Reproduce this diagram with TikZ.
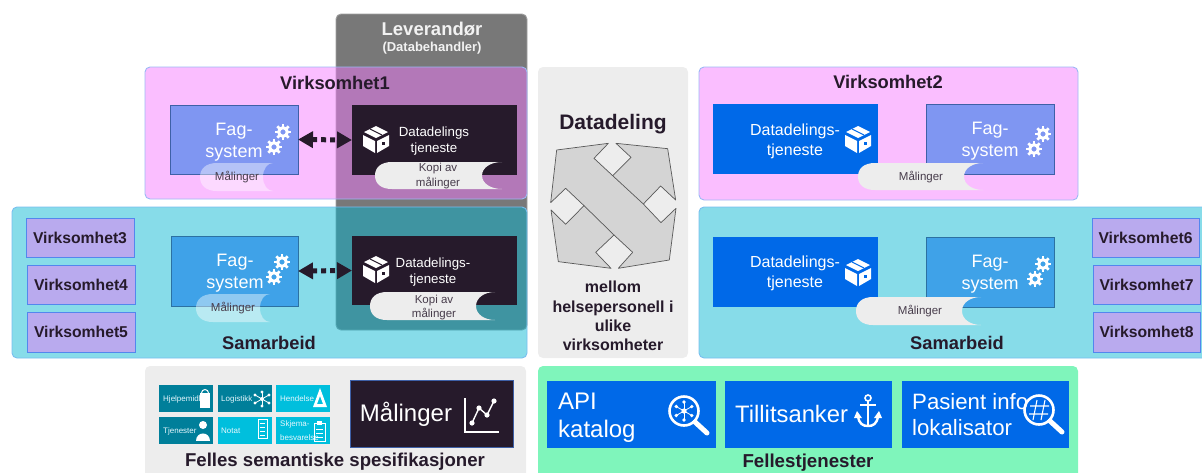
\documentclass[tikz,border=0pt]{standalone}
\usepackage{fontspec}
\setmainfont{Liberation Sans}
\usetikzlibrary{arrows.meta}
\definecolor{ink}{HTML}{261A2B}
\definecolor{gy}{HTML}{787878}
\definecolor{panel}{HTML}{EDEDED}
\definecolor{pinkc}{RGB}{245,120,255}
\definecolor{tealc}{RGB}{0,181,208}
\definecolor{fagA}{HTML}{7F96F2}
\definecolor{fagB}{HTML}{3FA2E8}
\definecolor{blue}{HTML}{0069E8}
\definecolor{lilac}{HTML}{B9AAEE}
\definecolor{mint}{HTML}{7FF5BB}
\definecolor{tileD}{HTML}{007F9A}
\definecolor{tileL}{HTML}{00BFDD}
\newcommand{\fs}[2]{\fontsize{#1}{#2}\selectfont}
\newcommand{\mybox}[6]{\pgfmathsetmacro\bw{#5-#3}\pgfmathsetmacro\bh{#6-#4}%
  \node[#2,minimum width=\bw pt,minimum height=\bh pt,inner sep=0pt,outer sep=0pt,anchor=north west] (#1) at (#3,#4) {};}
% banner: style, left, tip, concave, top, bottom
\newcommand{\banner}[6]{\pgfmathsetmacro\ym{(#5+#6)/2}\pgfmathsetmacro\hh{#6-#5}%
  \pgfmathsetmacro\ra{#2+17}\pgfmathsetmacro\rb{#2+6}\pgfmathsetmacro\ua{\ym-.30*\hh}\pgfmathsetmacro\ub{\ym+.30*\hh}%
  \pgfmathsetmacro\cc{#4+.45*(#3-#4)}%
  \path[#1] (#3,#5) -- (\ra,#5) .. controls (\rb,#5) and (#2,\ua) .. (#2,\ym)
    .. controls (#2,\ub) and (\rb,#6) .. (\ra,#6) -- (#3,#6)
    .. controls (\cc,#6) and (#4,\ub) .. (#4,\ym)
    .. controls (#4,\ua) and (\cc,#5) .. (#3,#5) -- cycle;}
\tikzset{
  x=1pt,y=-1pt,
  lbl/.style={inner sep=0pt,align=center},
  white lbl/.style={lbl,text=white},
  ink lbl/.style={lbl,text=ink},
  fagtext/.style={white lbl,font=\fs{18}{22}},
  bigbold/.style={ink lbl,font=\bfseries\fs{18.3}{22}},
  vname/.style={ink lbl,font=\bfseries\fs{15.7}{19}},
  bantext/.style={lbl,text=ink!85,font=\fs{11.5}{14.5}},
  tiletext/.style={lbl,anchor=west,text=white!90!cyan,font=\fs{8}{14},align=left},
  vbox/.style={draw=blue!35!fagA,fill=lilac,line width=.9pt},
  outerbox/.style={rounded corners=5pt,line width=.9pt},
  ban/.style={fill=panel},
  banlite/.style={fill=white,fill opacity=.42},
  dbl/.style={{Triangle[length=15pt,width=16pt]}-{Triangle[length=15pt,width=16pt]},ink,line width=5pt,dash pattern=on 5pt off 4pt},
  pics/gear/.style={code={
    \draw[white,line width=3pt] (0,0) circle (4.3pt);
    \foreach \a in {0,45,...,315}{\draw[white,line width=2.6pt] (\a:5pt) -- (\a:8pt);}
  }},
  pics/cube/.style={code={
    \fill[white] (0,-13) -- (12,-7) -- (0,-1) -- (-12,-7) -- cycle;
    \fill[white] (-13,-4) -- (-1,2) -- (-1,14) -- (-13,7) -- cycle;
    \fill[white] (13,-4) -- (1,2) -- (1,14) -- (13,7) -- cycle;
    \draw[#1,line width=1pt] (-6,-10) -- (6,-4);
    \fill[#1] (6,3) rectangle (9,6);
  }},
  pics/lens/.style={code={
    \draw[white,line width=2.6pt] (0,0) circle (14.5pt);
    \draw[white,line width=5pt,line cap=round] (11,11) -- (23,22);
  }},
}
\begin{document}
\begin{tikzpicture}
\useasboundingbox (0,0) rectangle (1202,472);
% supplier band, under the translucent panels
\path[fill=gy,draw=gy!70!white,outerbox] (336,14) rectangle (527,330);
\node[lbl,text=white!95!black,font=\bfseries\fs{18.5}{22}] (lev) at (432,29) {Leverandør};
\node[lbl,text=white!95!black,font=\bfseries\fs{13}{16}] (levsub) at (432,48) {(Databehandler)};
% organisation panels
\path[fill=pinkc,fill opacity=.48,draw=blue!30!fagA!60!white,outerbox] (145,67) rectangle (527,199);
\path[fill=tealc,fill opacity=.47,draw=fagB!70!white,outerbox] (12,207) rectangle (527,358);
\path[fill=pinkc,fill opacity=.48,draw=blue!30!fagA!60!white,outerbox] (699,67) rectangle (1078,200);
\path[fill=tealc,fill opacity=.47,draw=fagB!70!white,outerbox] (699,207) rectangle (1214,358);
\path[fill=panel,rounded corners=5pt] (538,67) rectangle (688,358);
\path[fill=panel,rounded corners=5pt] (145,366) rectangle (526,480);
\path[fill=mint,rounded corners=5pt] (538,366) rectangle (1078,480);

\node[bigbold] (v1) at (335,83) {Virksomhet1};
\node[bigbold] (v2) at (888,82) {Virksomhet2};
\node[bigbold] (sam1) at (269,343) {Samarbeid};
\node[bigbold] (sam2) at (957,343) {Samarbeid};

% left side systems
\mybox{fag1}{draw=blue!30!fagA!70!black,fill=fagA,line width=.8pt}{170}{105}{298}{174}
\mybox{dat1}{fill=ink}{352}{105}{517}{175}
\mybox{fag2}{draw=fagB!70!black,fill=fagB,line width=.8pt}{171}{236}{298}{306}
\mybox{dat2}{fill=ink}{352}{236}{517}{305}
\draw[dbl] (fag1.east) -- (dat1.west);
\draw[dbl] (fag2.east) -- (dat2.west);

\node[fagtext] (f1) at (234,142.5) {Fag-\\system};
\node[fagtext] (f2) at (235,273.5) {Fag-\\system};
\node[white lbl,font=\fs{13.3}{16}] (d1) at (434,141) {Datadelings\\tjeneste};
\node[white lbl,font=\fs{13.3}{16}] (d2) at (433,272) {Datadelings-\\tjeneste};
\pic at (283,132) {gear}; \pic at (274,147) {gear};
\pic at (282,262) {gear}; \pic at (274,277) {gear};
\pic at (376,139) {cube=ink}; \pic at (376,269) {cube=ink};

\banner{banlite}{200}{273}{263}{163}{191}
\node[bantext] (m1) at (237,177) {Målinger};
\banner{banlite}{196}{270}{260}{294}{322}
\node[bantext] (m2) at (233,308) {Målinger};
\banner{ban}{375}{502}{482}{162}{189}
\node[bantext] (k1) at (438,176) {Kopi av\\målinger};
\banner{ban}{370}{495}{476}{292}{320}
\node[bantext] (k2) at (434,307.5) {Kopi av\\målinger};

% member lists
\mybox{v3}{vbox}{26}{218}{134}{257}
\mybox{v4}{vbox}{27}{265}{135}{304}
\mybox{v5}{vbox}{27}{312}{135}{352}
\node[vname] at (v3) {Virksomhet3};
\node[vname] at (v4) {Virksomhet4};
\node[vname] at (v5) {Virksomhet5};
\mybox{v6}{vbox}{1092}{218}{1199}{257}
\mybox{v7}{vbox}{1093}{265}{1200}{304}
\mybox{v8}{vbox}{1093}{312}{1200}{352}
\node[vname] at (v6) {Virksomhet6};
\node[vname] at (v7) {Virksomhet7};
\node[vname] at (v8) {Virksomhet8};

% centre column
\node[ink lbl,font=\bfseries\fs{21}{25}] (dd) at (613,124) {Datadeling};
\begin{scope}[shift={(530,60)},x=.3333pt,y=-.3333pt]
\path[fill=black!17,draw=black!65,line width=.7pt,line join=round]
  (80,270)--(235,250)--(192,295)--(248,347)--(303,292)--(258,250)--(413,266)--(437,420)
  --(392,378)--(340,432)--(393,488)--(438,445)--(418,600)--(265,625)--(308,577)--(252,525)
  --(197,577)--(243,625)--(85,605)--(63,450)--(107,493)--(162,437)--(107,385)--(62,428)--cycle;
\draw[black!65,line width=.7pt] (248,347)--(340,432);
\draw[black!65,line width=.7pt] (162,437)--(252,525);
\end{scope}
\node[ink lbl,font=\bfseries\fs{16}{19.3}] (dds) at (613,316) {mellom\\helsepersonell i\\ulike\\virksomheter};

% right side systems
\mybox{dat3}{fill=blue}{713}{104}{878}{174}
\mybox{fag3}{draw=blue!30!fagA!70!black,fill=fagA,line width=.8pt}{926}{104}{1054}{174}
\mybox{dat4}{fill=blue}{713}{237}{878}{307}
\mybox{fag4}{draw=fagB!70!black,fill=fagB,line width=.8pt}{926}{237}{1054}{307}
\node[white lbl,font=\fs{16}{19.5}] (d3) at (795,141.5) {Datadelings-\\tjeneste};
\node[white lbl,font=\fs{16}{19.5}] (d4) at (795,273.5) {Datadelings-\\tjeneste};
\node[fagtext] (f3) at (990,141.5) {Fag-\\system};
\node[fagtext] (f4) at (990,274.5) {Fag-\\system};
\pic at (1043,134) {gear}; \pic at (1034,149) {gear};
\pic at (1043,264) {gear}; \pic at (1035,279) {gear};
\pic at (858,139) {cube=blue}; \pic at (858,272) {cube=blue};
\banner{ban}{858}{983}{964}{163}{190}
\node[bantext] (m3) at (921,177) {Målinger};
\banner{ban}{856}{981}{962}{297}{325}
\node[bantext] (m4) at (920,311) {Målinger};

% shared specifications
\mybox{t1}{fill=tileD}{159}{385}{213}{412}
\mybox{t2}{fill=tileD}{218}{385}{272}{412}
\mybox{t3}{fill=tileL}{276}{385}{330}{412}
\mybox{t4}{fill=tileD}{159}{417}{213}{444}
\mybox{t5}{fill=tileL}{218}{417}{272}{444}
\mybox{t6}{fill=tileL}{276}{417}{330}{444}
\node[tiletext] at (163,399) {Hjelpemidler};
\node[tiletext] at (221,399) {Logistikk};
\node[tiletext] at (280,399) {Hendelse};
\node[tiletext] at (163,431) {Tjenester};
\node[tiletext] at (221,431) {Notat};
\node[tiletext] at (280,431) {Skjema-\\besvarelse};
% tile icons
\fill[white] (200,393) rectangle (210,408);
\draw[white,line width=1pt] (205,393) circle (3.5pt);
\foreach \a/\r in {90/7,30/8,150/8,-30/8,210/8,-90/7}{\draw[white,line width=.8pt] (262,399) -- ++(\a:\r pt);\fill[white] (262,399) ++(\a:\r pt) circle (1.6pt);}
\fill[white] (262,399) circle (2pt);
\fill[white,even odd rule] (320,388) -- (327,407) -- (313,407) -- cycle (320,396) -- (323,404) -- (317,404) -- cycle;
\fill[white] (203,425) circle (4pt);
\fill[white] (196,441) .. controls (196,431) and (210,431) .. (210,441) -- cycle;
\draw[white,line width=.9pt] (258,419) rectangle (267,438);
\foreach \yy in {423,427,431,435}{\draw[white,line width=.7pt] (260,\yy) -- (265,\yy);}
\draw[white,line width=1pt] (314,423) rectangle (325,441);
\fill[white] (317,421) rectangle (322,425);
\foreach \yy in {429,433,437}{\draw[white,line width=.7pt] (316,\yy) -- (323,\yy);}

\mybox{mal}{draw=blue!30!fagA!70!black,fill=ink,line width=.8pt}{350}{380}{513}{447}
\node[white lbl,font=\fs{24}{28}] (malt) at (406,414) {Målinger};
\draw[white,line width=1.6pt] (465,398) -- (465,432) -- (499,432);
\draw[white,line width=1.4pt] (472,423) -- (479,408) -- (487,415) -- (494,401);
\foreach \p in {(472,423),(479,408),(487,415),(494,401)}{\fill[white] \p circle (2.6pt);}
\node[ink lbl,font=\bfseries\fs{18.6}{22}] (fs) at (335,462) {Felles semantiske spesifikasjoner};

% shared services
\mybox{s1}{fill=blue}{547}{381}{716}{448}
\mybox{s2}{fill=blue}{725}{381}{892}{448}
\mybox{s3}{fill=blue}{902}{381}{1069}{448}
\node[white lbl,align=left,anchor=north west,font=\fs{24}{28}] (s1t) at (558,393) {API\\katalog};
\node[white lbl,anchor=west,font=\fs{23.8}{26}] (s2t) at (735,414) {Tillitsanker};
\node[white lbl,align=left,anchor=north west,font=\fs{22.2}{26}] (s3t) at (912,393) {Pasient info\\lokalisator};
\pic at (684,411) {lens};
\fill[white] (684,411) circle (2.6pt);
\foreach \a in {30,90,150,210,270,330}{\draw[white,line width=.8pt] (684,411) -- ++(\a:9pt);\fill[white] (684,411) ++(\a:9pt) circle (1.8pt);}
\pic at (1039,410) {lens};
\draw[white,line width=1.1pt] (1030,406) -- (1049,406) (1029,414) -- (1048,414) (1037,400) -- (1033,420) (1045,400) -- (1041,420);
% anchor
\draw[white,line width=1.6pt] (868,398) circle (3pt);
\draw[white,line width=2.6pt] (868,401) -- (868,426) (860,405) -- (876,405);
\draw[white,line width=2.4pt] (858,416) .. controls (859,424) and (863,426) .. (868,426) .. controls (873,426) and (877,424) .. (878,416);
\fill[white] (854,418) -- (862,418) -- (857,411) -- cycle;
\fill[white] (874,418) -- (882,418) -- (879,411) -- cycle;
\node[ink lbl,font=\bfseries\fs{18.7}{21}] (ft) at (808,463) {Fellestjenester};
\end{tikzpicture}
\end{document}
